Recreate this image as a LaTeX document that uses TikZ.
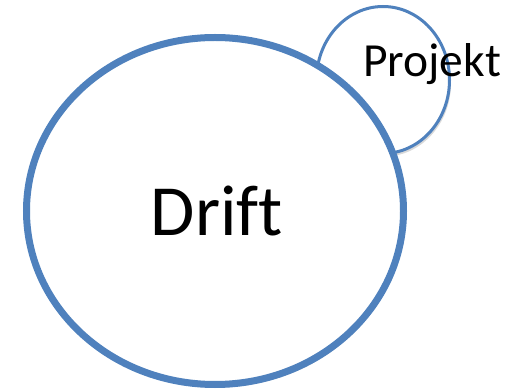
\documentclass[tikz,border=0pt]{standalone}
\usepackage{fontspec}
\setmainfont{Carlito}[Ligatures=NoCommon]
\usetikzlibrary{shapes.geometric,shadows}

\definecolor{kreisblau}{HTML}{4F81BD}
\tikzset{
	kreis/.style={draw=kreisblau, fill=white, inner sep=0pt,
		drop shadow={shadow xshift=1.5pt, shadow yshift=-3pt, opacity=0.25, fill=black!60}},
	titel/.style={inner sep=0pt, text=black}
}

\begin{document}
\begin{tikzpicture}[x=1pt,y=1pt]
		\useasboundingbox (0,0) rectangle (514,391);
		% kleiner Kreis hinten, grosser Kreis davor
		\node[kreis, ellipse, line width=3pt, minimum width=133pt, minimum height=147pt] (projektkreis) at (383,311) {};
		\node[kreis, ellipse, line width=7pt, minimum width=377pt, minimum height=347pt] (drift) at (215,180) {};
		\node[titel, anchor=base, font=\fontsize{72}{80}\selectfont] (drifttext) at (217,155) {Drift};
		\node[titel, anchor=base west, font=\fontsize{47.5}{52}\selectfont] (projekttext) at (363,314) {Projekt};
		\end{tikzpicture}
\end{document}
